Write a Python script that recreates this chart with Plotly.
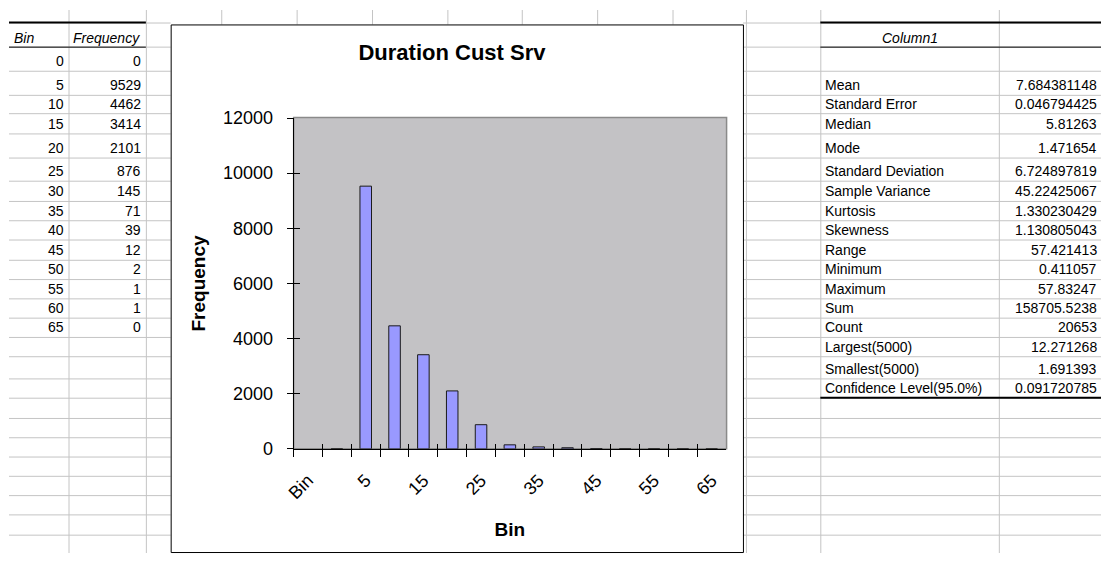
import plotly.graph_objects as go

# ---- worksheet data -------------------------------------------------------
bin_header = "Bin"
freq_header = "Frequency"
bins = [0, 5, 10, 15, 20, 25, 30, 35, 40, 45, 50, 55, 60, 65]
frequency = [0, 9529, 4462, 3414, 2101, 876, 145, 71, 39, 12, 2, 1, 1, 0]

stats_header = "Column1"
stats_labels = ["Mean", "Standard Error", "Median", "Mode", "Standard Deviation",
                "Sample Variance", "Kurtosis", "Skewness", "Range", "Minimum",
                "Maximum", "Sum", "Count", "Largest(5000)", "Smallest(5000)",
                "Confidence Level(95.0%)"]
stats_values = ["7.684381148", "0.046794425", "5.81263", "1.471654", "6.724897819",
                "45.22425067", "1.330230429", "1.130805043", "57.421413", "0.411057",
                "57.83247", "158705.5238", "20653", "12.271268", "1.691393",
                "0.091720785"]

chart_title = "Duration Cust Srv"
y_ticks = [0, 2000, 4000, 6000, 8000, 10000, 12000]

# ---- page geometry --------------------------------------------------------
W, H = 1101, 563
FONT = "Arial, Liberation Sans, sans-serif"


def px(x):
    return x / W


def py(y):
    return 1 - y / H


# worksheet row boundaries and column boundaries (pixels)
row_lines = [13, 38, 63, 88, 107, 128, 153, 177, 198, 218, 238, 259, 279, 299,
             319, 339, 359, 382, 402, 423, 443, 463, 483, 503, 523, 544]
chart_box = (163, 15, 740, 562)          # left, top, right, bottom
plot_box = (287, 112, 723, 455)
grid_color = "#C4C4C4"

# the chart plots the Bin column including its header cell as first category
categories = [bin_header] + [str(b) for b in bins]
values = [None] + frequency
tick_text = [c if i % 2 == 0 else "" for i, c in enumerate(categories)]

fig = go.Figure()
fig.add_trace(go.Bar(
    x=categories, y=values, width=0.4,
    marker=dict(color="#9999FF", line=dict(color="#1A1A1A", width=1)),
    hoverinfo="x+y", showlegend=False,
))
# carrier for the inner half of the crossing tick marks
fig.add_trace(go.Scatter(
    x=categories, y=values, xaxis="x2", yaxis="y2", mode="markers",
    marker=dict(opacity=0), hoverinfo="skip", showlegend=False,
))

shapes = []


def hline(y, x0, x1, color=grid_color, width=1):
    yy = y + 0.5 if width % 2 else y
    shapes.append(dict(type="line", xref="paper", yref="paper",
                       x0=px(x0), x1=px(x1), y0=py(yy), y1=py(yy),
                       line=dict(color=color, width=width)))


def vline(x, y0, y1, color=grid_color, width=1):
    xx = x + 0.5
    shapes.append(dict(type="line", xref="paper", yref="paper",
                       x0=px(xx), x1=px(xx), y0=py(y0), y1=py(y1),
                       line=dict(color=color, width=width)))


# worksheet gridlines outside the embedded chart
for y in row_lines:
    hline(y, 0, chart_box[0])
    hline(y, chart_box[2], W)
for x in (60, 138):
    vline(x, 0, H)
for x in (214, 290, 366, 442, 517, 593, 669):
    vline(x, 0, chart_box[1])
for x in (743, 818, 998):
    vline(x, 0, H)

# table borders
hline(13, 0, 138, "#000000", 2)
hline(38, 0, 138, "#000000", 1)
hline(13, 818, W, "#000000", 2)
hline(38, 818, W, "#000000", 1)
hline(402, 818, W, "#000000", 2)

# chart area frame
shapes.append(dict(type="rect", xref="paper", yref="paper",
                   x0=px(chart_box[0] + 0.5), x1=px(chart_box[2] + 0.5),
                   y0=py(chart_box[3] + 0.5), y1=py(chart_box[1] + 0.5),
                   line=dict(color="#000000", width=1), fillcolor="rgba(0,0,0,0)",
                   layer="above"))
# plot area frame (grey, visible at top and right)
shapes.append(dict(type="rect", xref="paper", yref="paper",
                   x0=px(plot_box[0]), x1=px(plot_box[2] + 0.5),
                   y0=py(plot_box[3]), y1=py(plot_box[1] - 0.5),
                   line=dict(color="#8A8A8A", width=1.5), fillcolor="rgba(0,0,0,0)",
                   layer="below"))

annotations = []


def cell_text(text, x, y, anchor, italic=False):
    annotations.append(dict(
        text=f"<i>{text}</i>" if italic else text,
        x=px(x), y=py(y), xref="paper", yref="paper",
        xanchor=anchor, yanchor="middle", showarrow=False,
        font=dict(family=FONT, size=14, color="#000000"),
    ))


# left table: Bin / Frequency
cell_text(bin_header, 3, row_lines[1] - 9, "left", italic=True)
cell_text(freq_header, 63, row_lines[1] - 9, "left", italic=True)
for k, (b, f) in enumerate(zip(bins, frequency)):
    y = row_lines[2 + k] - 10
    cell_text(str(b), 57, y, "right")
    cell_text(str(f), 135, y, "right")

# right table: descriptive statistics
cell_text(stats_header, 908, row_lines[1] - 9, "center", italic=True)
for k, (lab, val) in enumerate(zip(stats_labels, stats_values)):
    y = row_lines[3 + k] - 10
    cell_text(lab, 821, y, "left")
    cell_text(val, 1099, y, "right")

axis_common = dict(showgrid=False, zeroline=False)

fig.update_layout(
    width=W, height=H,
    margin=dict(l=0, r=0, t=0, b=0),
    paper_bgcolor="#FFFFFF",
    plot_bgcolor="#C3C2C5",
    title=dict(text=f"<b>{chart_title}</b>", x=px(452), y=py(52),
               xanchor="center", yanchor="middle",
               font=dict(family=FONT, size=22, color="#000000")),
    xaxis=dict(
        **axis_common,
        domain=[px(plot_box[0]), px(plot_box[2])],
        type="category", categoryorder="array", categoryarray=categories,
        range=[-0.5, len(categories) - 0.5],
        tickson="boundaries", tickmode="array", tickvals=categories, ticktext=tick_text,
        ticks="outside", ticklen=7, tickcolor="#000000", tickwidth=1,
        tickangle=-45, ticklabelstandoff=13,
        tickfont=dict(family=FONT, size=18, color="#000000"),
        showline=True, linecolor="#000000", linewidth=1,
        title=dict(text="<b>Bin</b>", standoff=20,
                   font=dict(family=FONT, size=19, color="#000000")),
    ),
    xaxis2=dict(
        **axis_common, overlaying="x", anchor="y2", side="bottom",
        domain=[px(plot_box[0]), px(plot_box[2])],
        type="category", categoryorder="array", categoryarray=categories,
        range=[-0.5, len(categories) - 0.5],
        tickson="boundaries", tickmode="array", tickvals=categories,
        ticks="inside", ticklen=5, tickcolor="#000000", tickwidth=1,
        showticklabels=False, showline=False,
    ),
    yaxis=dict(
        **axis_common,
        domain=[py(plot_box[3]), py(plot_box[1])],
        range=[0, 12000], tickmode="array", tickvals=y_ticks, tickformat="d",
        ticks="outside", ticklen=6, tickcolor="#000000", tickwidth=1,
        ticklabelstandoff=10,
        tickfont=dict(family=FONT, size=18, color="#000000"),
        showline=True, linecolor="#000000", linewidth=1,
        title=dict(text="<b>Frequency</b>", standoff=12,
                   font=dict(family=FONT, size=19, color="#000000")),
    ),
    yaxis2=dict(
        **axis_common, overlaying="y", anchor="x2", side="left",
        domain=[py(plot_box[3]), py(plot_box[1])],
        range=[0, 12000], tickmode="array", tickvals=y_ticks,
        ticks="inside", ticklen=6, tickcolor="#000000", tickwidth=1,
        showticklabels=False, showline=False,
    ),
    shapes=shapes,
    annotations=annotations,
)

fig.write_html("out.html")
